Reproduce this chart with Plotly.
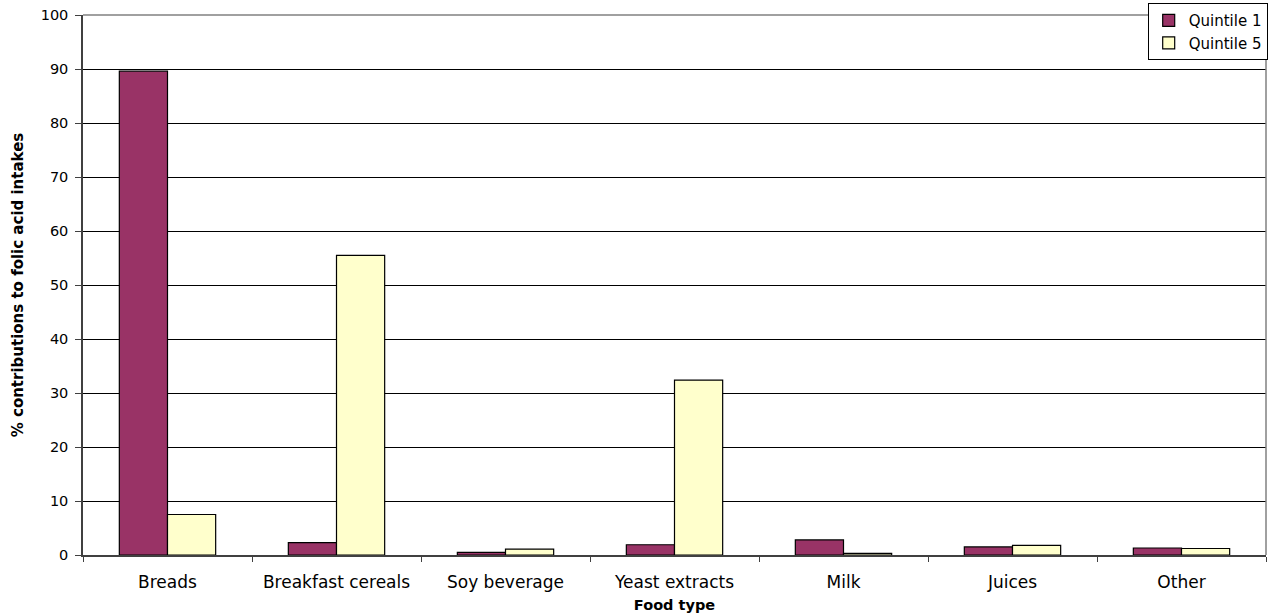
import plotly.graph_objects as go

categories = ["Breads", "Breakfast cereals", "Soy beverage", "Yeast extracts",
              "Milk", "Juices", "Other"]
quintile_1 = [89.6, 2.3, 0.5, 1.9, 2.8, 1.5, 1.3]
quintile_5 = [7.5, 55.5, 1.1, 32.4, 0.3, 1.8, 1.2]
y_ticks = list(range(0, 101, 10))

fig = go.Figure()
fig.add_trace(go.Bar(
    name="Quintile 1", x=categories, y=quintile_1,
    marker=dict(color="#993366", line=dict(color="#000000", width=1.2)),
))
fig.add_trace(go.Bar(
    name="Quintile 5", x=categories, y=quintile_5,
    marker=dict(color="#FFFFCC", line=dict(color="#000000", width=1.2)),
))

font = "DejaVu Sans, Arial, sans-serif"

fig.update_layout(
    width=1272, height=615,
    margin=dict(l=83, r=6, t=15, b=60, autoexpand=False),
    paper_bgcolor="white", plot_bgcolor="white",
    barmode="group", bargap=0.43, bargroupgap=0,
    font=dict(family=font, size=15, color="#000000"),
    showlegend=True,
    legend=dict(
        x=0.9, y=1.022, xanchor="left", yanchor="top",
        bgcolor="white", bordercolor="#000000", borderwidth=1,
        font=dict(family=font, size=15),
        itemwidth=30, tracegroupgap=0,
    ),
    xaxis=dict(
        type="category", tickson="boundaries",
        ticks="outside", ticklen=5, tickcolor="#404040",
        showline=True, linecolor="#404040", linewidth=1.5,
        showgrid=False,
        tickfont=dict(size=17),
        ticklabelstandoff=11,
        title=dict(text="<b>Food type</b>", font=dict(size=14.5), standoff=9),
    ),
    yaxis=dict(
        range=[0, 100], tickvals=y_ticks,
        ticks="outside", ticklen=6, tickcolor="#404040",
        showline=True, linecolor="#404040", linewidth=1.5,
        showgrid=True, gridcolor="#000000", gridwidth=1,
        zeroline=False,
        tickfont=dict(size=14.5),
        ticklabelstandoff=4,
        title=dict(text="<b>% contributions to folic acid intakes</b>",
                   font=dict(size=15), standoff=13),
    ),
    shapes=[
        dict(type="line", xref="paper", yref="paper", x0=0, x1=1, y0=1, y1=1,
             line=dict(color="#808080", width=1.5), layer="above"),
        dict(type="line", xref="paper", yref="paper", x0=1, x1=1, y0=0, y1=1,
             line=dict(color="#808080", width=1.5), layer="above"),
    ],
)

fig.write_html("out.html")
